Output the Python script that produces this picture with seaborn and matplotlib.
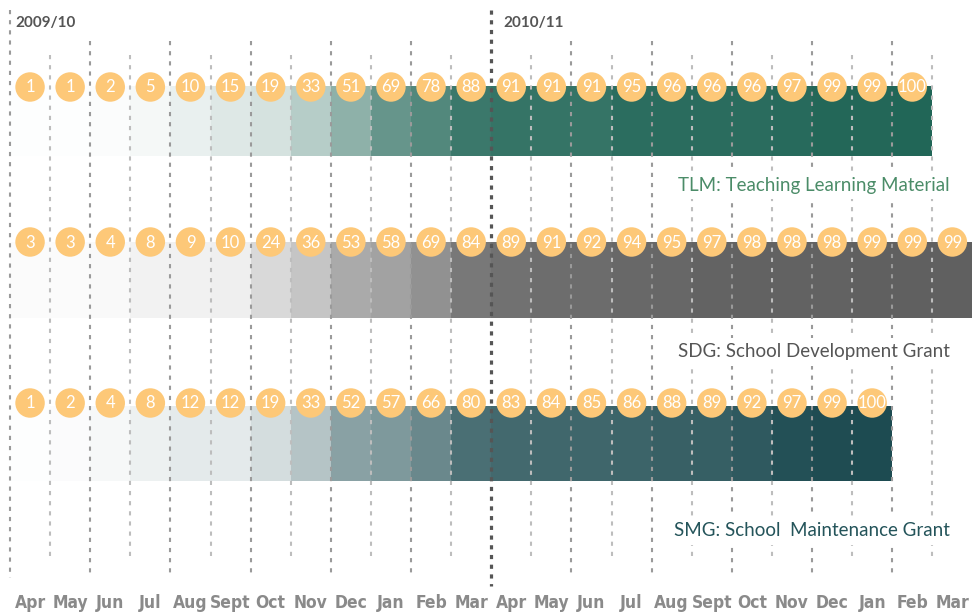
import numpy as np
import pandas as pd
import matplotlib
matplotlib.use("Agg")
import matplotlib.pyplot as plt
from matplotlib.colors import LinearSegmentedColormap
import seaborn as sns

# Data (percent, per month, Apr 2009 - Mar 2011)
months = ["Apr", "May", "Jun", "Jul", "Aug", "Sept", "Oct", "Nov", "Dec", "Jan", "Feb", "Mar"] * 2
years = ["2009/10", "2010/11"]
tlm = [1, 1, 2, 5, 10, 15, 19, 33, 51, 69, 78, 88,
       91, 91, 91, 95, 96, 96, 96, 97, 99, 99, 100]
sdg = [3, 3, 4, 8, 9, 10, 24, 36, 53, 58, 69, 84,
       89, 91, 92, 94, 95, 97, 98, 98, 98, 99, 99, 99]
smg = [1, 2, 4, 8, 12, 12, 19, 33, 52, 57, 66, 80,
       83, 84, 85, 86, 88, 89, 92, 97, 99, 100]
series_names = ["TLM: Teaching Learning Material",
                "SDG: School Development Grant",
                "SMG: School  Maintenance Grant"]

rows = []
for name, vals in zip(series_names, [tlm, sdg, smg]):
    for i, v in enumerate(vals):
        rows.append({"series": name, "month": i, "value": v})
df = pd.DataFrame(rows)

# layout / style per row (pixel-like y units, 0 at top)
row_style = {
    series_names[0]: dict(top=86, bottom=156, cy=87, ly=185, end="#216657", label="#4b8c68"),
    series_names[1]: dict(top=242, bottom=318, cy=242, ly=352, end="#5f5f5f", label="#555555"),
    series_names[2]: dict(top=406, bottom=481, cy=403, ly=531, end="#1d4b51", label="#24545a"),
}

sns.set_theme(style="white")
plt.rcParams["lines.scale_dashes"] = False

fig = plt.figure(figsize=(9.73, 6.13), dpi=100)
ax = fig.add_axes([0, 0, 1, 1])
px = 40.1
ax.set_xlim(-10 / px, (973 - 10) / px)
ax.set_ylim(613, 0)
ax.axis("off")

# bars coloured by value
for name, st in row_style.items():
    sub = df[df["series"] == name]
    cmap = LinearSegmentedColormap.from_list(name, ["#ffffff", st["end"]])
    colors = [cmap(v / 100) for v in sub["value"]]
    ax.bar(sub["month"], st["bottom"] - st["top"], bottom=st["top"], width=1,
           align="edge", color=colors, linewidth=0, zorder=1)

# vertical dashed month lines
for i in range(24):
    if i == 12:
        ax.vlines(i, 10, 586, colors="#555555", linewidth=2.3,
                  linestyles=(0, (3, 4)), zorder=2)
    elif i == 0:
        ax.vlines(i, 10, 578, colors="#9a9a9a", linewidth=1.5,
                  linestyles=(0, (3, 4.3)), zorder=2)
    elif i % 2 == 0:
        ax.vlines(i, 41, 578, colors="#9a9a9a", linewidth=1.5,
                  linestyles=(0, (3, 4.3)), zorder=2)
    else:
        ax.vlines(i, 55, 560, colors="#bdbdbd", linewidth=1.5,
                  linestyles=(0, (3, 4.3)), zorder=2)

# circles with values
df["cx"] = df["month"] + 0.5
df["cy"] = df["series"].map({k: v["cy"] for k, v in row_style.items()})
sns.scatterplot(data=df, x="cx", y="cy", s=450, color="#fdc878", edgecolor="none",
                linewidth=0, legend=False, ax=ax, zorder=4)
for _, r in df.iterrows():
    ax.text(r["cx"], r["cy"] + 0.5, str(r["value"]), ha="center", va="center",
            color="white", fontsize=12, family="Lato", zorder=5)

# series labels
for name, st in row_style.items():
    ax.text((950 - 10) / px, st["ly"], name, ha="right", va="center",
            color=st["label"], fontsize=13.5, family="Lato", zorder=6,
            bbox=dict(facecolor="white", edgecolor="none", pad=4))

# year labels
ax.text((15 - 10) / px, 23, years[0], ha="left", va="center", color="#555555",
        fontsize=11, fontweight="bold", family="Lato", zorder=6)
ax.text((503 - 10) / px, 23, years[1], ha="left", va="center", color="#555555",
        fontsize=11, fontweight="bold", family="Lato", zorder=6)

# month labels
for i, m in enumerate(months):
    ax.text(i + 0.5, 603, m, ha="center", va="center", color="#8a8a8a",
            fontsize=12.5, fontweight="bold", fontstretch="condensed",
            family=["Liberation Sans Narrow", "DejaVu Sans"], zorder=6)

fig.savefig("out.png", dpi=100)
